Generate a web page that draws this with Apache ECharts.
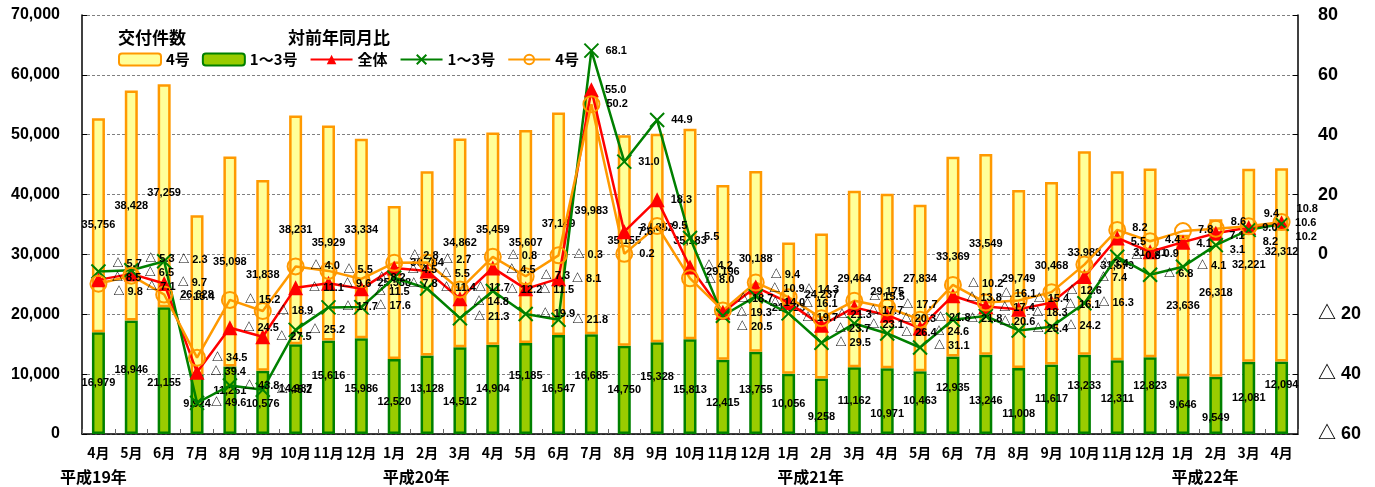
<!DOCTYPE html>
<html><head><meta charset="utf-8">
<script src="https://cdn.jsdelivr.net/npm/echarts@6/dist/echarts.min.js"></script>
<style>html,body{margin:0;padding:0;background:#fff}#c{width:1375px;height:487px}</style>
</head><body><div id="c"></div>
<script>
// ---- data ----
const categories = ['4月','5月','6月','7月','8月','9月','10月','11月','12月',
  '1月','2月','3月','4月','5月','6月','7月','8月','9月','10月','11月','12月',
  '1月','2月','3月','4月','5月','6月','7月','8月','9月','10月','11月','12月',
  '1月','2月','3月','4月'];
const years = ['平成19年','','','','','','','','',
  '平成20年','','','','','','','','','','','',
  '平成21年','','','','','','','','','','','',
  '平成22年','','',''];
const count13 = [16979,18946,21155,9924,11261,10576,14987,15616,15986,12520,13128,14512,
  14904,15185,16547,16685,14750,15328,15813,12415,13755,10056,9258,11162,10971,10463,
  12935,13246,11008,11617,13233,12311,12823,9646,9549,12081,12094];
const count4 = [35756,38428,37259,26628,35098,31838,38231,35929,33334,25588,30784,34862,
  35459,35607,37149,39983,35155,34852,35183,29196,30188,21923,24237,29464,29175,27834,
  33369,33549,29749,30468,33988,31579,31521,23636,26318,32221,32312];
const yoyTotal = [-8.5,-6.5,-9.7,-39.4,-24.5,-27.5,-11.1,-9.6,-11.5,-4.5,-5.5,-14.8,
  -4.5,-11.5,-8.1,55.0,7.6,18.3,-4.2,-19.3,-10.9,
  -16.1,-23.7,-17.7,-20.3,-24.6,-13.8,-17.4,-18.3,-16.1,-7.4,5.5,0.9,
  4.1,7.1,9.0,10.6];
const yoy13 = [-5.7,-5.3,-2.3,-49.6,-43.8,-45.2,-25.2,-17.7,-17.6,-7.8,-11.4,-21.3,
  -12.2,-19.9,-21.8,68.1,31.0,44.9,5.5,-20.5,-14.0,
  -19.7,-29.5,-23.1,-26.4,-31.1,-21.8,-20.6,-25.4,-24.2,-16.3,-0.8,-6.8,
  -4.1,3.1,8.2,10.2];
const yoy4 = [-9.8,-7.1,-13.4,-34.5,-15.2,-18.9,-4.0,-5.5,-8.2,-2.8,-2.7,-11.7,
  -0.8,-7.3,-0.3,50.2,0.2,9.5,-8.0,-18.7,-9.4,
  -14.3,-21.3,-15.5,-17.7,-21.8,-10.2,-16.1,-15.4,-12.6,-3.4,8.2,4.4,
  7.8,8.6,9.4,10.8];

// ---- chart ----
const NUM_FONT = '"Liberation Sans", Arial, "Noto Sans CJK JP", sans-serif';
const JP_FONT = '"Noto Sans CJK JP", sans-serif';
const chart = echarts.init(document.getElementById('c'), null, {renderer: 'canvas'});

function pct(v) { return v < 0 ? '△ ' + Math.abs(v).toFixed(1) : v.toFixed(1); }
function num(v) { return Number(v).toLocaleString('en-US'); }

const pctLabel = {
  show: true, position: 'right', distance: 6, color: '#000',
  fontSize: 11, fontWeight: 'bold', fontFamily: NUM_FONT,
  formatter: p => pct(p.value)
};
const barLabel = {
  show: true, position: 'inside', color: '#000', fontSize: 11, fontWeight: 'bold',
  fontFamily: NUM_FONT, formatter: p => num(p.value)
};

function withOffsets(arr, offs) {
  return arr.map((v, i) => offs ? {value: v, label: {offset: [0, offs[i]]}} : v);
}

const xSymbol = 'path://M0,0L10,10M10,0L0,10';

function buildOption(o) {
  o = o || {};
  return {
    animation: false,
    backgroundColor: '#fff',
    title: [
      {text: '交付件数', left: 113, top: 24, textStyle: {fontFamily: JP_FONT, fontSize: 17, fontWeight: 'bold', color: '#000'}},
      {text: '対前年同月比', left: 283, top: 24, textStyle: {fontFamily: JP_FONT, fontSize: 17, fontWeight: 'bold', color: '#000'}}
    ],
    legend: {
      left: 113, top: 47, itemWidth: 42, itemHeight: 12, itemGap: 12,
      textStyle: {fontFamily: JP_FONT, fontSize: 15, fontWeight: 'bold', color: '#000'},
      formatter: n => n.trim(),
      data: ['4号', '1〜3号', '全体', '1〜3号 ', '4号 ']
    },
    grid: {left: 82, right: 77, top: 15, bottom: 53},
    xAxis: {
      type: 'category', data: categories, boundaryGap: true,
      axisLine: {lineStyle: {color: '#000', width: 1.5}},
      axisTick: {show: true, inside: true, length: 5, lineStyle: {color: '#666'}},
      axisLabel: {
        interval: 0, margin: 8, color: '#000',
        formatter: (val, idx) => years[idx] ? '{m|' + val + '}\n{' + (idx === 0 ? 'y0' : 'y') + '|' + years[idx] + '}' : '{m|' + val + '}',
        rich: {
          m: {fontFamily: JP_FONT, fontSize: 14, fontWeight: 'bold', lineHeight: 22, color: '#000'},
          y0: {fontFamily: JP_FONT, fontSize: 16, fontWeight: 'bold', lineHeight: 26, color: '#000', padding: [0, 10, 0, 0]},
          y: {fontFamily: JP_FONT, fontSize: 16, fontWeight: 'bold', lineHeight: 26, color: '#000', padding: [0, 0, 0, 44]}
        }
      }
    },
    yAxis: [
      {
        type: 'value', min: 0, max: 70000, interval: 10000,
        axisLine: {show: true, lineStyle: {color: '#000', width: 1.5}},
        axisTick: {show: true, inside: true, length: 5, lineStyle: {color: '#000'}},
        splitLine: {show: true, lineStyle: {color: '#808080', type: [3, 2], width: 1}},
        axisLabel: {margin: 22, color: '#000', fontFamily: NUM_FONT, fontSize: 16, fontWeight: 'bold', formatter: v => num(v)}
      },
      {
        type: 'value', min: -60, max: 80, interval: 20, position: 'right',
        axisLine: {show: true, lineStyle: {color: '#000', width: 1.5}},
        axisTick: {show: true, inside: true, length: 5, lineStyle: {color: '#000'}},
        splitLine: {show: false},
        axisLabel: {margin: 20, color: '#000', fontFamily: NUM_FONT, fontSize: 18, fontWeight: 'bold',
          formatter: v => v < 0 ? '△ ' + Math.abs(v) : String(v)}
      }
    ],
    series: [
      {
        name: '1〜3号', type: 'bar', stack: 'cnt', barWidth: 13, data: withOffsets(count13, o.b13),
        itemStyle: {color: '#99CC00', borderColor: '#008000', borderWidth: 2.5},
        label: barLabel
      },
      {
        name: '4号', type: 'bar', stack: 'cnt', barWidth: 13, data: withOffsets(count4, o.b4),
        itemStyle: {color: '#FFFF99', borderColor: '#FF9900', borderWidth: 2.5},
        label: barLabel
      },
      {
        name: '全体', type: 'line', yAxisIndex: 1, data: withOffsets(yoyTotal, o.p && o.p[0]),
        symbol: 'triangle', symbolSize: 15,
        lineStyle: {color: '#FF0000', width: 2.5},
        itemStyle: {color: '#FF0000'},
        label: pctLabel
      },
      {
        name: '1〜3号 ', type: 'line', yAxisIndex: 1, data: withOffsets(yoy13, o.p && o.p[1]),
        symbol: xSymbol, symbolSize: 14,
        lineStyle: {color: '#008000', width: 2.5},
        itemStyle: {color: '#008000', borderColor: '#008000', borderWidth: 2},
        label: pctLabel
      },
      {
        name: '4号 ', type: 'line', yAxisIndex: 1, data: withOffsets(yoy4, o.p && o.p[2]),
        symbol: 'circle', symbolSize: 16,
        lineStyle: {color: '#FF9900', width: 2.5},
        itemStyle: {color: 'rgba(255,255,255,0)', borderColor: '#FF9900', borderWidth: 2},
        label: pctLabel
      }
    ]
  };
}

chart.setOption(buildOption());

// --- label declutter (derived from the rendered scales) ---
const ppu = Math.abs(chart.convertToPixel({yAxisIndex: 1}, 0) - chart.convertToPixel({yAxisIndex: 1}, 20)) / 20;
const GAP = 14;
const p = [[], [], []];
const seriesVals = [yoyTotal, yoy13, yoy4];
for (let i = 0; i < categories.length; i++) {
  const items = seriesVals.map((arr, k) => ({k, y: -arr[i] * ppu}));
  items.sort((a, b) => a.y - b.y);
  const adj = items.map(it => it.y);
  for (let j = 1; j < adj.length; j++) if (adj[j] < adj[j - 1] + GAP) adj[j] = adj[j - 1] + GAP;
  const mo = items.reduce((s, it) => s + it.y, 0) / items.length;
  const ma = adj.reduce((s, y) => s + y, 0) / adj.length;
  items.forEach((it, j) => { p[it.k][i] = adj[j] + (mo - ma) - it.y; });
}

// bar labels: stagger neighbours that would sit at the same height
const yPix = v => chart.convertToPixel({yAxisIndex: 0}, v);
const axisBottom = yPix(0);
function stagger(lowArr, segArr) {
  const offs = [];
  let prev = null;
  for (let i = 0; i < segArr.length; i++) {
    const base = (lowArr ? lowArr[i] : 0);
    const top = yPix(base + segArr[i]);
    const bottom = yPix(base);
    const c = (top + bottom) / 2;
    let y = c;
    if (prev !== null && Math.abs(y - prev) < 13) {
      y = (y >= prev) ? prev + 13 : prev - 13;
      if (y > axisBottom - 7) y = prev - 13;
    }
    offs.push(y - c);
    prev = y;
  }
  return offs;
}
const b13 = stagger(null, count13);
const b4 = stagger(count13, count4);
chart.setOption(buildOption({p, b13, b4}));
</script>
</body></html>
